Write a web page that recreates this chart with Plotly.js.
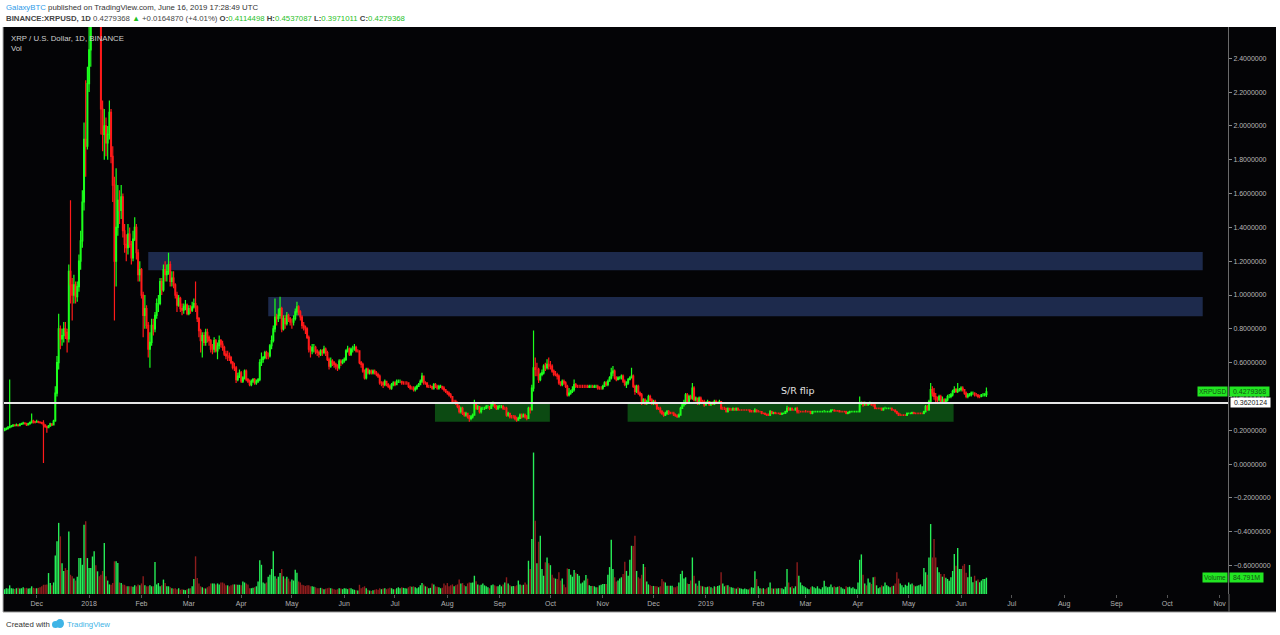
<!DOCTYPE html>
<html>
<head>
<meta charset="utf-8">
<script src="https://cdn.plot.ly/plotly-3.0.1.min.js"></script>
<style>
html,body{margin:0;padding:0;background:#ffffff;}
#chart{width:1280px;height:635px;}
</style>
</head>
<body>
<div id="chart"></div>
<script>
// ---------------- DATA (daily XRP/USD, Binance) ----------------
const startDate = '2017-11-12';   // first daily candle
const firstOpen = 0.200;          // open of the first candle (later opens = previous close)

const close = [
/*Nov17*/0.205,0.210,0.215,0.222,0.225,0.230,0.228,0.232,0.228,0.235,0.238,0.242,0.240,0.232,0.238,0.245,0.255,0.250,0.248,
/*Dec17*/0.252,0.248,0.245,0.242,0.232,0.222,0.215,0.225,0.238,0.232,0.255,0.42,0.60,0.80,0.74,0.76,0.80,0.78,0.74,1.14,1.06,1.00,1.06,0.99,1.05,1.20,1.32,1.55,1.92,1.88,2.25,
/*Jan18*/2.45,2.70,3.10,3.30,2.95,3.00,2.75,2.10,1.95,2.00,1.90,1.95,2.08,1.82,1.65,1.20,1.40,1.56,1.50,1.58,1.38,1.30,1.28,1.36,1.30,1.22,1.33,1.40,1.25,1.12,1.15,
/*Feb18*/1.00,0.88,0.92,0.82,0.68,0.72,0.82,0.80,0.88,0.95,0.95,1.08,1.03,1.15,1.12,1.14,1.18,1.08,1.10,1.06,1.00,0.94,0.98,0.92,0.91,0.93,0.94,0.89,
/*Mar18*/0.92,0.91,0.93,0.95,0.93,0.86,0.79,0.73,0.76,0.72,0.78,0.75,0.73,0.68,0.68,0.73,0.67,0.70,0.73,0.71,0.69,0.65,0.64,0.64,0.63,0.60,0.57,0.57,0.50,0.52,0.54,
/*Apr18*/0.49,0.51,0.55,0.50,0.49,0.47,0.49,0.50,0.48,0.49,0.50,0.60,0.62,0.63,0.66,0.64,0.64,0.70,0.73,0.80,0.87,0.86,0.88,0.92,0.80,0.86,0.83,0.88,0.86,0.84,
/*May18*/0.84,0.86,0.90,0.93,0.90,0.87,0.82,0.81,0.80,0.75,0.68,0.67,0.69,0.69,0.67,0.66,0.65,0.67,0.66,0.68,0.66,0.62,0.58,0.61,0.60,0.59,0.58,0.57,0.61,0.60,0.61,
/*Jun18*/0.62,0.67,0.68,0.65,0.68,0.68,0.69,0.67,0.67,0.60,0.59,0.55,0.51,0.56,0.54,0.55,0.54,0.55,0.54,0.53,0.52,0.48,0.48,0.47,0.49,0.47,0.46,0.45,0.47,0.48,
/*Jul18*/0.47,0.49,0.49,0.49,0.48,0.48,0.48,0.48,0.46,0.45,0.45,0.44,0.45,0.46,0.47,0.49,0.52,0.48,0.48,0.46,0.46,0.46,0.45,0.47,0.46,0.45,0.46,0.46,0.45,0.44,0.43,
/*Aug18*/0.42,0.41,0.40,0.37,0.37,0.36,0.34,0.31,0.33,0.30,0.29,0.30,0.28,0.27,0.28,0.29,0.36,0.33,0.34,0.31,0.33,0.33,0.33,0.34,0.34,0.33,0.35,0.36,0.34,0.33,0.34,
/*Sep18*/0.34,0.34,0.33,0.33,0.29,0.30,0.28,0.28,0.28,0.27,0.26,0.27,0.29,0.28,0.29,0.28,0.27,0.33,0.32,0.45,0.57,0.56,0.56,0.50,0.53,0.54,0.58,0.57,0.59,0.58,
/*Oct18*/0.58,0.55,0.53,0.53,0.52,0.48,0.47,0.49,0.48,0.46,0.41,0.42,0.43,0.44,0.47,0.46,0.46,0.46,0.46,0.46,0.46,0.46,0.455,0.46,0.46,0.455,0.46,0.46,0.45,0.45,0.45,
/*Nov18*/0.46,0.48,0.47,0.49,0.51,0.54,0.55,0.51,0.50,0.51,0.51,0.52,0.49,0.47,0.48,0.50,0.51,0.52,0.46,0.43,0.46,0.42,0.41,0.37,0.38,0.36,0.37,0.40,0.38,0.36,
/*Dec18*/0.37,0.36,0.33,0.33,0.31,0.30,0.29,0.30,0.31,0.30,0.30,0.30,0.29,0.285,0.28,0.29,0.33,0.35,0.36,0.41,0.37,0.40,0.39,0.45,0.38,0.39,0.36,0.39,0.37,0.37,0.35,
/*Jan19*/0.36,0.37,0.35,0.36,0.355,0.37,0.36,0.36,0.37,0.33,0.33,0.33,0.31,0.33,0.32,0.32,0.33,0.32,0.33,0.32,0.32,0.32,0.32,0.32,0.32,0.32,0.31,0.31,0.31,0.32,0.31,
/*Feb19*/0.31,0.31,0.30,0.30,0.295,0.29,0.29,0.31,0.30,0.305,0.30,0.30,0.30,0.295,0.30,0.30,0.31,0.33,0.32,0.33,0.32,0.32,0.33,0.31,0.31,0.31,0.31,0.31,
/*Mar19*/0.31,0.31,0.31,0.30,0.31,0.31,0.31,0.31,0.31,0.31,0.31,0.31,0.31,0.31,0.31,0.32,0.32,0.315,0.315,0.315,0.31,0.31,0.31,0.31,0.30,0.305,0.31,0.31,0.31,0.31,0.31,
/*Apr19*/0.31,0.36,0.36,0.35,0.36,0.35,0.36,0.36,0.35,0.35,0.33,0.33,0.33,0.33,0.32,0.33,0.33,0.33,0.33,0.33,0.32,0.32,0.31,0.30,0.29,0.29,0.29,0.29,0.29,0.30,
/*May19*/0.30,0.30,0.305,0.30,0.30,0.30,0.30,0.30,0.30,0.31,0.34,0.32,0.37,0.44,0.42,0.40,0.38,0.38,0.40,0.37,0.38,0.36,0.38,0.40,0.40,0.41,0.43,0.44,0.43,0.44,0.44,
/*Jun19*/0.45,0.44,0.42,0.40,0.41,0.41,0.42,0.42,0.41,0.41,0.40,0.40,0.41,0.41,0.4114498,0.4279368
];

const high = [
/*Nov17*/0.215,0.218,0.225,0.50,0.232,0.238,0.236,0.240,0.236,0.242,0.245,0.250,0.248,0.244,0.244,0.252,0.30,0.262,0.256,
/*Dec17*/0.262,0.256,0.252,0.250,0.26,0.236,0.228,0.232,0.245,0.242,0.262,0.46,0.64,0.89,0.82,0.80,0.84,0.84,0.80,1.18,1.56,1.10,1.12,1.08,1.08,1.24,1.38,1.62,2.02,2.27,2.35,
/*Jan18*/2.60,2.80,3.30,3.80,3.40,3.10,3.05,2.80,2.15,2.10,2.05,2.00,2.15,2.10,1.88,1.70,1.75,1.65,1.62,1.65,1.60,1.42,1.36,1.42,1.40,1.32,1.38,1.46,1.42,1.27,1.20,
/*Feb18*/1.16,1.02,1.00,0.94,0.84,0.78,0.86,0.86,0.90,0.98,1.00,1.10,1.10,1.18,1.20,1.18,1.25,1.20,1.14,1.14,1.07,1.02,1.00,0.99,0.95,0.95,0.97,0.95,
/*Mar18*/0.94,0.94,0.96,0.98,1.08,0.94,0.87,0.80,0.78,0.78,0.80,0.80,0.76,0.74,0.71,0.75,0.74,0.72,0.76,0.74,0.73,0.70,0.67,0.67,0.66,0.64,0.61,0.60,0.58,0.54,0.56,
/*Apr18*/0.55,0.52,0.56,0.56,0.51,0.50,0.50,0.51,0.51,0.50,0.51,0.62,0.66,0.64,0.67,0.67,0.66,0.71,0.76,0.82,0.98,0.89,0.92,0.99,0.93,0.88,0.88,0.90,0.89,0.87,
/*May18*/0.86,0.88,0.92,0.96,0.94,0.91,0.88,0.84,0.82,0.81,0.76,0.70,0.71,0.71,0.70,0.68,0.67,0.68,0.68,0.70,0.69,0.67,0.63,0.63,0.62,0.61,0.60,0.59,0.62,0.62,0.62,
/*Jun18*/0.63,0.68,0.70,0.69,0.69,0.70,0.71,0.70,0.68,0.67,0.61,0.60,0.56,0.57,0.57,0.56,0.56,0.56,0.56,0.55,0.54,0.53,0.49,0.49,0.50,0.49,0.48,0.47,0.48,0.49,
/*Jul18*/0.49,0.50,0.50,0.50,0.49,0.49,0.49,0.49,0.48,0.47,0.46,0.46,0.46,0.47,0.48,0.50,0.54,0.52,0.49,0.48,0.47,0.47,0.46,0.48,0.48,0.47,0.47,0.47,0.46,0.46,0.44,
/*Aug18*/0.43,0.43,0.42,0.40,0.38,0.38,0.37,0.35,0.34,0.34,0.31,0.31,0.30,0.29,0.29,0.30,0.38,0.36,0.35,0.34,0.34,0.34,0.34,0.35,0.35,0.34,0.36,0.37,0.36,0.35,0.35,
/*Sep18*/0.35,0.35,0.35,0.34,0.34,0.31,0.30,0.29,0.29,0.29,0.28,0.28,0.30,0.30,0.30,0.30,0.29,0.34,0.34,0.47,0.79,0.63,0.60,0.57,0.54,0.56,0.59,0.60,0.62,0.63,
/*Oct18*/0.61,0.59,0.56,0.55,0.54,0.53,0.49,0.50,0.50,0.49,0.47,0.45,0.44,0.46,0.50,0.48,0.47,0.47,0.47,0.47,0.47,0.47,0.47,0.47,0.47,0.47,0.47,0.47,0.47,0.46,0.46,
/*Nov18*/0.47,0.49,0.49,0.50,0.52,0.57,0.58,0.56,0.52,0.52,0.52,0.53,0.53,0.50,0.49,0.51,0.52,0.57,0.53,0.47,0.47,0.47,0.43,0.42,0.39,0.39,0.38,0.41,0.41,0.39,
/*Dec18*/0.38,0.38,0.36,0.34,0.34,0.32,0.31,0.31,0.32,0.32,0.31,0.31,0.31,0.30,0.295,0.30,0.34,0.36,0.38,0.42,0.42,0.41,0.41,0.48,0.46,0.40,0.39,0.40,0.40,0.38,0.38,
/*Jan19*/0.37,0.38,0.37,0.37,0.37,0.38,0.38,0.37,0.38,0.37,0.34,0.34,0.33,0.335,0.33,0.33,0.335,0.33,0.335,0.335,0.325,0.325,0.325,0.325,0.325,0.325,0.325,0.32,0.32,0.33,0.325,
/*Feb19*/0.32,0.315,0.31,0.305,0.305,0.30,0.30,0.32,0.315,0.31,0.31,0.305,0.305,0.305,0.305,0.305,0.315,0.345,0.34,0.335,0.335,0.325,0.335,0.34,0.32,0.315,0.315,0.315,
/*Mar19*/0.32,0.315,0.315,0.315,0.315,0.315,0.315,0.315,0.315,0.315,0.315,0.32,0.315,0.315,0.315,0.325,0.325,0.325,0.32,0.32,0.32,0.315,0.315,0.315,0.315,0.31,0.315,0.315,0.315,0.315,0.315,
/*Apr19*/0.315,0.40,0.37,0.37,0.37,0.365,0.365,0.37,0.365,0.355,0.355,0.335,0.335,0.335,0.335,0.335,0.34,0.335,0.335,0.335,0.335,0.325,0.325,0.315,0.305,0.30,0.295,0.295,0.295,0.305,
/*May19*/0.305,0.305,0.31,0.31,0.305,0.305,0.305,0.305,0.305,0.315,0.35,0.35,0.38,0.48,0.46,0.45,0.42,0.40,0.41,0.41,0.40,0.39,0.39,0.41,0.415,0.42,0.44,0.46,0.45,0.48,0.45,
/*Jun19*/0.46,0.46,0.445,0.43,0.42,0.42,0.43,0.43,0.425,0.42,0.41,0.41,0.415,0.42,0.42,0.4537087
];

const low = [
/*Nov17*/0.195,0.200,0.205,0.212,0.216,0.222,0.222,0.225,0.222,0.226,0.232,0.235,0.234,0.226,0.228,0.236,0.240,0.240,0.240,
/*Dec17*/0.244,0.242,0.240,0.236,0.007,0.215,0.185,0.212,0.222,0.226,0.230,0.25,0.40,0.56,0.68,0.70,0.72,0.74,0.66,0.72,0.95,0.85,0.95,0.95,0.96,1.02,1.15,1.28,1.50,1.70,1.86,
/*Jan18*/2.20,2.35,2.60,2.90,2.75,2.80,2.60,1.95,1.85,1.80,1.82,1.80,1.92,1.78,1.55,0.85,1.05,1.35,1.42,1.45,1.34,1.25,1.20,1.24,1.28,1.18,1.20,1.32,1.21,1.08,1.08,
/*Feb18*/0.98,0.75,0.80,0.80,0.63,0.57,0.70,0.76,0.78,0.86,0.90,0.94,1.00,1.02,1.08,1.08,1.12,1.05,1.05,1.04,0.98,0.90,0.93,0.90,0.88,0.89,0.91,0.88,
/*Mar18*/0.88,0.89,0.90,0.92,0.90,0.84,0.75,0.66,0.63,0.70,0.70,0.72,0.70,0.66,0.65,0.66,0.66,0.62,0.68,0.69,0.67,0.64,0.62,0.61,0.61,0.59,0.56,0.55,0.48,0.49,0.51,
/*Apr18*/0.48,0.48,0.50,0.49,0.48,0.46,0.46,0.48,0.47,0.47,0.48,0.49,0.58,0.60,0.62,0.62,0.62,0.63,0.68,0.72,0.78,0.82,0.84,0.86,0.78,0.79,0.80,0.82,0.84,0.82,
/*May18*/0.80,0.82,0.85,0.88,0.88,0.85,0.80,0.79,0.77,0.74,0.66,0.63,0.65,0.66,0.65,0.64,0.63,0.64,0.64,0.65,0.64,0.61,0.56,0.57,0.58,0.57,0.56,0.55,0.56,0.58,0.59,
/*Jun18*/0.60,0.61,0.66,0.64,0.64,0.66,0.67,0.66,0.66,0.59,0.57,0.54,0.50,0.50,0.53,0.53,0.53,0.53,0.53,0.52,0.51,0.47,0.46,0.45,0.46,0.46,0.45,0.44,0.44,0.46,
/*Jul18*/0.46,0.47,0.48,0.48,0.47,0.47,0.47,0.47,0.45,0.44,0.44,0.43,0.43,0.44,0.46,0.47,0.48,0.47,0.47,0.45,0.45,0.45,0.44,0.44,0.45,0.44,0.44,0.45,0.44,0.43,0.42,
/*Aug18*/0.41,0.40,0.39,0.36,0.36,0.35,0.33,0.30,0.30,0.29,0.28,0.28,0.27,0.25,0.26,0.27,0.29,0.32,0.32,0.30,0.30,0.32,0.32,0.33,0.33,0.32,0.33,0.34,0.33,0.32,0.32,
/*Sep18*/0.33,0.33,0.32,0.32,0.28,0.28,0.27,0.27,0.27,0.26,0.25,0.26,0.27,0.27,0.28,0.27,0.26,0.27,0.30,0.32,0.43,0.52,0.52,0.48,0.49,0.52,0.53,0.55,0.56,0.56,
/*Oct18*/0.56,0.54,0.52,0.52,0.50,0.47,0.46,0.46,0.47,0.45,0.40,0.40,0.41,0.42,0.43,0.45,0.45,0.45,0.45,0.45,0.45,0.45,0.45,0.45,0.45,0.45,0.45,0.45,0.44,0.44,0.44,
/*Nov18*/0.44,0.46,0.46,0.46,0.49,0.50,0.52,0.50,0.49,0.50,0.50,0.50,0.48,0.46,0.45,0.47,0.50,0.51,0.45,0.41,0.42,0.41,0.40,0.35,0.36,0.35,0.35,0.36,0.37,0.35,
/*Dec18*/0.35,0.35,0.32,0.32,0.30,0.29,0.28,0.285,0.29,0.29,0.295,0.295,0.285,0.28,0.275,0.28,0.29,0.33,0.34,0.35,0.36,0.36,0.38,0.38,0.37,0.37,0.35,0.35,0.36,0.36,0.34,
/*Jan19*/0.345,0.355,0.345,0.345,0.35,0.35,0.355,0.355,0.355,0.32,0.32,0.32,0.305,0.305,0.315,0.315,0.315,0.315,0.315,0.315,0.315,0.315,0.315,0.315,0.315,0.315,0.305,0.305,0.305,0.305,0.305,
/*Feb19*/0.305,0.305,0.295,0.295,0.29,0.285,0.285,0.285,0.295,0.295,0.295,0.295,0.295,0.29,0.29,0.295,0.30,0.305,0.315,0.315,0.315,0.315,0.315,0.30,0.30,0.305,0.305,0.305,
/*Mar19*/0.305,0.305,0.305,0.295,0.295,0.305,0.305,0.305,0.305,0.305,0.305,0.305,0.305,0.305,0.305,0.305,0.315,0.31,0.31,0.31,0.305,0.305,0.305,0.305,0.295,0.295,0.30,0.305,0.305,0.305,0.305,
/*Apr19*/0.305,0.305,0.35,0.34,0.345,0.345,0.345,0.35,0.345,0.34,0.325,0.325,0.325,0.325,0.315,0.315,0.325,0.325,0.325,0.325,0.315,0.315,0.305,0.295,0.285,0.285,0.285,0.285,0.285,0.285,
/*May19*/0.295,0.295,0.295,0.295,0.295,0.295,0.295,0.295,0.295,0.295,0.305,0.315,0.315,0.36,0.40,0.38,0.36,0.36,0.37,0.36,0.36,0.355,0.355,0.37,0.39,0.39,0.40,0.42,0.42,0.42,0.43,
/*Jun19*/0.43,0.43,0.41,0.39,0.39,0.40,0.40,0.41,0.40,0.40,0.39,0.39,0.395,0.40,0.40,0.3971011
];

// daily volume, millions of XRP
const volume = [
/*Nov17*/25,30,28,45,30,28,26,30,32,28,30,35,30,32,28,30,40,32,30,
/*Dec17*/30,32,35,40,48,48,50,109,57,45,60,200,274,370,300,160,120,135,125,325,100,92,80,70,90,187,187,152,360,378,187,
/*Jan18*/135,135,195,222,150,118,92,100,120,265,92,70,50,48,57,170,170,161,60,57,50,48,40,40,40,40,38,45,40,50,45,
/*Feb18*/55,92,45,40,40,45,40,40,166,50,57,40,45,75,57,40,40,35,30,28,30,25,30,22,25,22,20,25,
/*Mar18*/28,30,40,78,196,83,55,40,35,30,28,35,40,55,55,55,50,55,50,60,60,55,45,45,40,45,50,50,50,48,48,
/*Apr18*/45,65,60,55,50,30,30,32,35,40,65,175,152,60,55,60,90,100,130,222,92,80,90,109,130,92,80,90,80,65,
/*May18*/75,70,126,110,65,60,48,45,42,45,45,40,40,38,35,30,30,32,28,25,28,30,32,30,28,25,22,25,30,28,25,
/*Jun18*/30,28,25,30,30,25,22,20,18,48,30,35,40,30,22,18,16,20,22,25,22,30,25,28,30,25,28,32,30,25,
/*Jul18*/25,30,35,30,35,32,30,28,35,40,38,40,35,30,35,45,57,50,40,38,30,32,54,50,40,38,35,30,32,55,45,
/*Aug18*/57,40,45,50,40,45,50,75,55,57,45,40,55,60,58,60,95,66,50,45,48,55,45,40,35,30,45,50,45,40,40,
/*Sep18*/48,40,50,60,87,55,45,40,42,40,45,70,50,45,48,60,50,173,130,286,736,381,160,272,303,130,95,165,190,160,
/*Oct18*/150,100,85,80,78,113,70,80,50,35,133,130,100,90,125,110,104,95,55,60,70,99,80,45,42,42,40,35,35,45,48,
/*Nov18*/52,52,52,100,140,282,130,87,65,70,80,87,104,168,120,95,178,251,250,303,120,87,80,100,156,140,65,50,45,42,
/*Dec18*/42,40,40,35,40,78,65,60,43,43,43,43,35,35,40,60,104,121,80,87,55,52,70,190,95,55,43,69,43,40,38,
/*Jan19*/35,38,40,35,30,40,38,42,45,113,55,40,45,45,38,35,32,30,28,35,30,28,25,28,25,24,28,35,32,118,78,
/*Feb19*/40,30,28,30,25,30,35,60,30,28,30,28,30,30,30,25,38,130,60,35,40,30,40,165,95,60,45,40,
/*Mar19*/35,28,25,35,40,35,30,40,28,25,35,69,40,35,38,50,35,40,35,38,42,35,28,25,40,35,38,30,35,28,25,
/*Apr19*/60,178,206,100,55,45,80,60,52,87,90,45,30,35,45,40,60,45,40,35,40,43,55,113,80,55,45,35,48,43,
/*May19*/60,50,55,45,40,43,45,50,40,135,113,100,190,364,190,286,190,139,113,104,90,104,85,78,69,87,120,208,147,239,130,
/*Jun19*/130,147,156,110,87,151,90,61,95,69,75,61,70,78,78,84.791
];

const monthTicks = ['2017-12-01','2018-01-01','2018-02-01','2018-03-01','2018-04-01','2018-05-01','2018-06-01','2018-07-01','2018-08-01','2018-09-01','2018-10-01','2018-11-01','2018-12-01','2019-01-01','2019-02-01','2019-03-01','2019-04-01','2019-05-01','2019-06-01','2019-07-01','2019-08-01','2019-09-01','2019-10-01','2019-11-01'];
const monthLabels = ['Dec','2018','Feb','Mar','Apr','May','Jun','Jul','Aug','Sep','Oct','Nov','Dec','2019','Feb','Mar','Apr','May','Jun','Jul','Aug','Sep','Oct','Nov'];

const srLevel = 0.3620124;
const lastPrice = 0.4279368;
const lastVolume = 84.791;

// ---------------- BUILD ----------------
const n = close.length;
const t0 = Date.UTC(2017, 10, 12);
const dates = [], open = [], hi = [], lo = [], volColors = [];
for (let i = 0; i < n; i++) {
  dates.push(new Date(t0 + i * 86400000).toISOString().slice(0, 10));
  const o = i === 0 ? firstOpen : close[i - 1];
  open.push(o);
  hi.push(Math.max(high[i], o, close[i]));
  lo.push(Math.min(low[i], o, close[i]));
  volColors.push(close[i] >= o ? '#27ee58' : '#8e1d1d');
}

const PX_L = 4, PX_R = 1228, PX_T = 27, PX_B = 594;
const px2x = p => (p - PX_L) / (PX_R - PX_L);
const px2y = p => (PX_B - p) / (PX_B - PX_T);

const volTrace = {
  type: 'bar', x: dates, y: volume, xaxis: 'x', yaxis: 'y',
  marker: {color: volColors, line: {width: 0}}, hoverinfo: 'skip', showlegend: false
};
const priceTrace = {
  type: 'candlestick', x: dates, open: open, high: hi, low: lo, close: close,
  xaxis: 'x', yaxis: 'y2', whiskerwidth: 0,
  increasing: {line: {color: '#1cff1c', width: 1.2}, fillcolor: '#1cff1c'},
  decreasing: {line: {color: '#ff1a1a', width: 1.2}, fillcolor: '#ff1a1a'},
  hoverinfo: 'skip', showlegend: false
};

const gc = '#1fbf1f';
const layout = {
  width: 1280, height: 635,
  margin: {l: PX_L, r: 1280 - PX_R, t: PX_T, b: 635 - PX_B, pad: 0},
  paper_bgcolor: '#ffffff', plot_bgcolor: '#040406',
  showlegend: false, bargap: 0.18, dragmode: false,
  font: {family: 'Liberation Sans, Arial, sans-serif', size: 8, color: '#b4b4b4'},
  xaxis: {
    type: 'date', range: ['2017-11-11 15:30', '2019-11-05 23:00'],
    rangeslider: {visible: false}, showgrid: false, zeroline: false, showline: false,
    tickmode: 'array', tickvals: monthTicks, ticktext: monthLabels,
    ticks: 'outside', ticklen: 3, tickcolor: '#555555', tickwidth: 1,
    tickfont: {size: 7, color: '#b0b0b0', family: 'Liberation Sans, Arial, sans-serif'}
  },
  yaxis: {range: [0, 2950], visible: false, fixedrange: true},
  yaxis2: {
    overlaying: 'y', side: 'right', anchor: 'x',
    range: [-0.768, 2.585], tick0: 0, dtick: 0.2, tickformat: '.7f',
    showgrid: false, zeroline: false, showline: true, linecolor: '#6a6a6a', linewidth: 1,
    ticks: 'outside', ticklen: 3, tickcolor: '#888888',
    tickfont: {size: 7, color: '#b8b8b8', family: 'Liberation Sans, Arial, sans-serif'}
  },
  shapes: [
    // dark chart panel including axis strips
    {type: 'rect', xref: 'paper', yref: 'paper', x0: px2x(3), x1: px2x(1276), y0: px2y(612), y1: 1,
     fillcolor: '#040406', line: {width: 0}, layer: 'below'},
    {type: 'line', xref: 'paper', yref: 'paper', x0: px2x(3), x1: px2x(1276), y0: px2y(612), y1: px2y(612),
     line: {color: '#9a9a9a', width: 1}, layer: 'below'},
    {type: 'line', xref: 'paper', yref: 'paper', x0: px2x(3), x1: px2x(3), y0: px2y(612), y1: 1,
     line: {color: '#b0b0b0', width: 1}, layer: 'below'},
    // resistance zones
    {type: 'rect', xref: 'x', yref: 'y2', x0: '2018-02-05', x1: '2019-10-22', y0: 1.147, y1: 1.254,
     fillcolor: '#1d2a4c', line: {width: 0}, layer: 'below'},
    {type: 'rect', xref: 'x', yref: 'y2', x0: '2018-04-17', x1: '2019-10-22', y0: 0.875, y1: 0.988,
     fillcolor: '#1d2a4c', line: {width: 0}, layer: 'below'},
    // support zones
    {type: 'rect', xref: 'x', yref: 'y2', x0: '2018-07-24 16:00', x1: '2018-09-30 16:00', y0: 0.251, y1: 0.367,
     fillcolor: '#0c4a12', line: {width: 0}, layer: 'below'},
    {type: 'rect', xref: 'x', yref: 'y2', x0: '2018-11-15 16:00', x1: '2019-05-27 14:00', y0: 0.251, y1: 0.367,
     fillcolor: '#0c4a12', line: {width: 0}, layer: 'below'},
    // S/R flip line
    {type: 'line', xref: 'paper', yref: 'y2', x0: 0, x1: 1, y0: srLevel, y1: srLevel,
     line: {color: '#e6e6e6', width: 2}, layer: 'above'},
    // price-scale separator through the time strip
    {type: 'line', xref: 'paper', yref: 'paper', x0: px2x(1229), x1: px2x(1229), y0: px2y(612), y1: 0,
     line: {color: '#6a6a6a', width: 1}},
    // TradingView logo (small cloud)
    {type: 'circle', xref: 'paper', yref: 'paper', x0: px2x(52), x1: px2x(59), y0: px2y(628), y1: px2y(621),
     fillcolor: '#3fb4e6', line: {width: 0}},
    {type: 'circle', xref: 'paper', yref: 'paper', x0: px2x(56), x1: px2x(64), y0: px2y(628), y1: px2y(619),
     fillcolor: '#3fb4e6', line: {width: 0}}
  ],
  annotations: [
    {xref: 'paper', yref: 'paper', x: px2x(4), y: px2y(7.5), xanchor: 'left', yanchor: 'middle', showarrow: false,
     text: '<span style="color:#2f9be8">GalaxyBTC</span> published on TradingView.com, June 16, 2019 17:28:49 UTC',
     font: {size: 7.8, color: '#333333'}},
    {xref: 'paper', yref: 'paper', x: px2x(4), y: px2y(18.5), xanchor: 'left', yanchor: 'middle', showarrow: false,
     text: '<b>BINANCE:XRPUSD, 1D</b> 0.4279368 <span style="color:' + gc + '">▲</span> +0.0164870 (+4.01%) ' +
           '<b>O:</b><span style="color:' + gc + '">0.4114498</span> <b>H:</b><span style="color:' + gc + '">0.4537087</span> ' +
           '<b>L:</b><span style="color:' + gc + '">0.3971011</span> <b>C:</b><span style="color:' + gc + '">0.4279368</span>',
     font: {size: 7.8, color: '#444444'}},
    {xref: 'paper', yref: 'paper', x: px2x(9), y: px2y(38), xanchor: 'left', yanchor: 'middle', showarrow: false,
     text: 'XRP / U.S. Dollar, 1D, BINANCE', font: {size: 7.8, color: '#cfcfcf'}},
    {xref: 'paper', yref: 'paper', x: px2x(9), y: px2y(48.5), xanchor: 'left', yanchor: 'middle', showarrow: false,
     text: 'Vol', font: {size: 7.8, color: '#cfcfcf'}},
    {xref: 'x', yref: 'y2', x: '2019-02-24 12:00', y: 0.438, xanchor: 'center', yanchor: 'middle', showarrow: false,
     text: 'S/R flip', font: {size: 9.5, color: '#e2e2e2', family: 'DejaVu Sans, sans-serif'}},
    // last price labels
    {xref: 'paper', yref: 'y2', x: px2x(1228), y: lastPrice, xanchor: 'right', yanchor: 'middle', showarrow: false,
     text: 'XRPUSD', bgcolor: '#22e622', borderpad: 1, font: {size: 6.5, color: '#145214'}},
    {xref: 'paper', yref: 'y2', x: px2x(1229), y: lastPrice, xanchor: 'left', yanchor: 'middle', showarrow: false,
     text: '&nbsp;0.4279368&nbsp;', bgcolor: '#22e622', borderpad: 1, font: {size: 7, color: '#145214'}},
    {xref: 'paper', yref: 'y2', x: px2x(1230), y: srLevel, xanchor: 'left', yanchor: 'middle', showarrow: false,
     text: '&nbsp;0.3620124&nbsp;', bgcolor: '#ffffff', borderpad: 1, font: {size: 7, color: '#222222'}},
    {xref: 'paper', yref: 'y', x: px2x(1228), y: lastVolume, xanchor: 'right', yanchor: 'middle', showarrow: false,
     text: 'Volume', bgcolor: '#22e622', borderpad: 1, font: {size: 6.5, color: '#145214'}},
    {xref: 'paper', yref: 'y', x: px2x(1229), y: lastVolume, xanchor: 'left', yanchor: 'middle', showarrow: false,
     text: '&nbsp;84.791M&nbsp;', bgcolor: '#22e622', borderpad: 1, font: {size: 7, color: '#145214'}},
    // footer
    {xref: 'paper', yref: 'paper', x: px2x(4), y: px2y(624), xanchor: 'left', yanchor: 'middle', showarrow: false,
     text: 'Created with', font: {size: 7.8, color: '#333333'}},
    {xref: 'paper', yref: 'paper', x: px2x(65), y: px2y(624), xanchor: 'left', yanchor: 'middle', showarrow: false,
     text: 'TradingView', font: {size: 7.8, color: '#3fb4e6'}}
  ]
};

Plotly.newPlot('chart', [volTrace, priceTrace], layout, {staticPlot: true, displayModeBar: false});
</script>
</body>
</html>
